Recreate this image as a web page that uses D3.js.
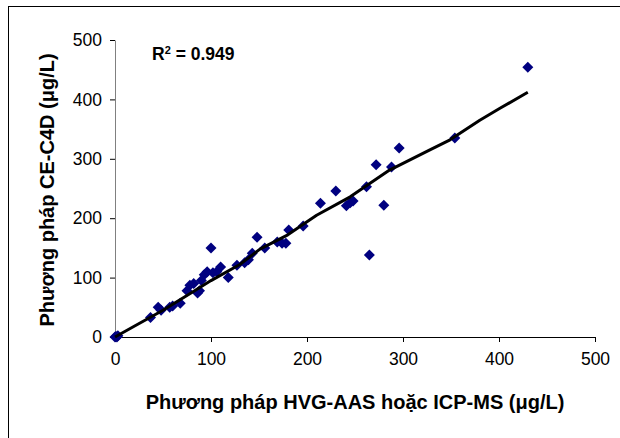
<!DOCTYPE html>
<html>
<head>
<meta charset="utf-8">
<script src="https://cdn.jsdelivr.net/npm/d3@7"></script>
<style>
  body { margin: 0; background: #fff; }
  text { font-family: "Liberation Sans", Arial, sans-serif; }
</style>
</head>
<body>
<div id="chart"></div>
<script>
//-- Data --//
var icpValues = [0, 1, 2, 3, 37, 45, 48, 57, 60, 68, 75, 78, 82, 86, 88, 90, 93, 96, 100, 102,
                 106, 110, 118, 127, 135, 139, 143, 148, 156, 169, 174, 178, 181, 196, 214, 230,
                 241, 245, 248, 262, 265, 272, 280, 288, 296, 354, 430];
var ceValues  = [0, 1, 0, 2, 33, 50, 45, 50, 52, 57, 78, 87, 90, 74, 78, 95, 105, 110, 150, 108,
                 110, 118, 100, 121, 125, 130, 141, 168, 150, 160, 158, 158, 180, 187, 225, 246,
                 221, 226, 229, 253, 138, 290, 222, 286, 318, 335, 454];
// trend line as drawn (slightly wavy)
var trendX = [0, 20, 50, 80, 100, 130, 151, 180, 210, 245, 286, 328, 349, 380, 401, 430];
var trendY = [0, 18, 45, 75, 95, 122, 148, 172, 205, 236, 281, 315, 332, 365, 385, 412];
var xTicks = [0, 100, 200, 300, 400, 500];
var yTicks = [0, 100, 200, 300, 400, 500];
var xTitle = "Phương pháp HVG-AAS hoặc ICP-MS (μg/L)";
var yTitle = "Phương pháp CE-C4D (μg/L)";

//-- SVG --//
var W = 620, H = 438;
var svg = d3.select("#chart").append("svg")
  .attr("width", W)
  .attr("height", H);

// outer frame
svg.append("rect")
  .attr("x", 8.5).attr("y", 6.5)
  .attr("width", 640).attr("height", 460)
  .attr("fill", "none")
  .attr("stroke", "#000");

//-- Scales --//
var xScale = d3.scaleLinear().domain([0, 500]).range([115, 595]),
    yScale = d3.scaleLinear().domain([0, 500]).range([337, 40]);

//-- Axes --//
var xAxis = d3.axisBottom(xScale).tickValues(xTicks).tickSize(5).tickSizeOuter(0).tickPadding(11),
    yAxis = d3.axisLeft(yScale).tickValues(yTicks).tickSize(5).tickSizeOuter(0).tickPadding(8);

var gx = svg.append("g")
  .attr("class", "x axis")
  .attr("transform", "translate(0," + yScale(0) + ")")
  .call(xAxis);
gx.select(".domain").attr("stroke", "#000");
gx.selectAll("line").attr("stroke", "#000");
gx.selectAll("text").style("font-size", "17.5px").attr("fill", "#000");

var gy = svg.append("g")
  .attr("class", "y axis")
  .attr("transform", "translate(" + xScale(0) + ",0)")
  .call(yAxis);
gy.select(".domain").attr("stroke", "#808080");
gy.selectAll("line").attr("stroke", "#000");
gy.selectAll("text").style("font-size", "17.5px").attr("fill", "#000");

//-- Points --//
var points = icpValues.map(function(v, i) { return {x: v, y: ceValues[i]}; });
var r = 5.5;
svg.append("g").selectAll("path")
  .data(points)
  .enter().append("path")
  .attr("d", function(d) {
    var cx = xScale(d.x), cy = yScale(d.y);
    return "M" + cx + "," + (cy - r) + "L" + (cx + r) + "," + cy +
           "L" + cx + "," + (cy + r) + "L" + (cx - r) + "," + cy + "Z";
  })
  .attr("fill", "#000080");

//-- Trend line --//
var trend = trendX.map(function(v, i) { return [v, trendY[i]]; });
svg.append("path")
  .datum(trend)
  .attr("d", d3.line()
    .x(function(d) { return xScale(d[0]); })
    .y(function(d) { return yScale(d[1]); }))
  .attr("fill", "none")
  .attr("stroke", "#000")
  .attr("stroke-width", 3)
  .attr("stroke-linejoin", "round");

//-- Labels --//
var r2 = svg.append("text")
  .attr("x", 152).attr("y", 60)
  .style("font-size", "17.5px").style("font-weight", "bold");
r2.append("tspan").text("R");
r2.append("tspan").attr("dy", -6).style("font-size", "11px").text("2");
r2.append("tspan").attr("dy", 6).text(" = 0.949");

svg.append("text")
  .attr("x", 355).attr("y", 409)
  .attr("text-anchor", "middle")
  .style("font-size", "20px").style("font-weight", "bold")
  .text(xTitle);

svg.append("text")
  .attr("transform", "translate(54," + 190 + ") rotate(-90)")
  .attr("text-anchor", "middle")
  .style("font-size", "20px").style("font-weight", "bold")
  .text(yTitle);
</script>
</body>
</html>
